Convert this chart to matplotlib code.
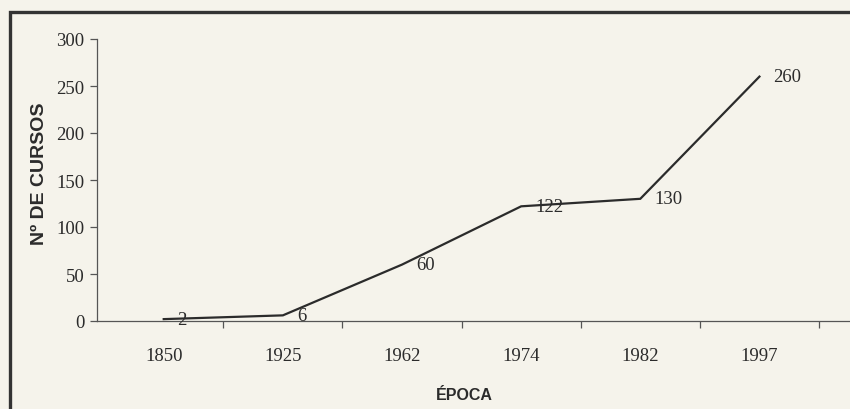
import matplotlib
matplotlib.use("Agg")
import matplotlib.pyplot as plt
from matplotlib.patches import Rectangle

# data
epocas = ["1850", "1925", "1962", "1974", "1982", "1997"]
cursos = [2, 6, 60, 122, 130, 260]
y_ticks = [0, 50, 100, 150, 200, 250, 300]

PAPER = "#f5f3eb"
INK = "#2b2b2b"
SERIF = ["Liberation Serif", "DejaVu Serif"]
SANS = ["Liberation Sans", "DejaVu Sans"]

W, H = 850, 410
fig = plt.figure(figsize=(W / 100, H / 100), dpi=100)
fig.patch.set_facecolor(PAPER)

# axes box in pixel terms: y axis at x=97, x axis at y=322, top (300) at y=40
ax = fig.add_axes([97 / W, (H - 322) / H, (W - 97) / W, (322 - 40) / H])
ax.set_facecolor("none")

x = list(range(len(epocas)))
ax.plot(x, cursos, color=INK, lw=1.6, solid_joinstyle="miter", zorder=3)

for xi, v in zip(x, cursos):
    ax.annotate(str(v), (xi, v), xytext=(10, 0), textcoords="offset points",
                ha="left", va="center", fontsize=13.5, family=SERIF,
                color=INK, zorder=4)

ax.set_ylim(0, 300)
ax.set_xlim(-0.56, 5.76)

ax.set_yticks(y_ticks)
ax.set_yticklabels([str(t) for t in y_ticks], family=SERIF, fontsize=13.5, color=INK)
ax.tick_params(axis="y", direction="out", length=5, width=0.9, pad=4, colors="#555555",
               labelcolor=INK)

ax.set_xticks(x)
ax.set_xticklabels(epocas, family=SERIF, fontsize=13.5, color=INK)
ax.set_xticks([i + 0.5 for i in x], minor=True)
ax.tick_params(axis="x", which="major", length=0, pad=19, labelcolor=INK)
ax.tick_params(axis="x", which="minor", direction="out", length=5, width=0.9,
               colors="#555555")

for side in ("top", "right"):
    ax.spines[side].set_visible(False)
for side in ("left", "bottom"):
    ax.spines[side].set_color("#555555")
    ax.spines[side].set_linewidth(0.9)

fig.text(40 / W, 1 - 174 / H, "Nº DE CURSOS", rotation=90, ha="center", va="center",
         fontsize=14, fontweight="bold", family=SANS, color=INK)
fig.text(464 / W, 1 - 396 / H, "ÉPOCA", ha="center", va="center",
         fontsize=11.5, fontweight="bold", family=SANS, color=INK)

# page frame: thick border on the left and top, cut off at right and bottom
fig.add_artist(Rectangle((10 / W, -0.2), 1.2, 1 - 13 / H + 0.2, fill=False,
                         lw=2.4, edgecolor="#333333", transform=fig.transFigure))

fig.savefig("out.png", dpi=100, facecolor=PAPER)
